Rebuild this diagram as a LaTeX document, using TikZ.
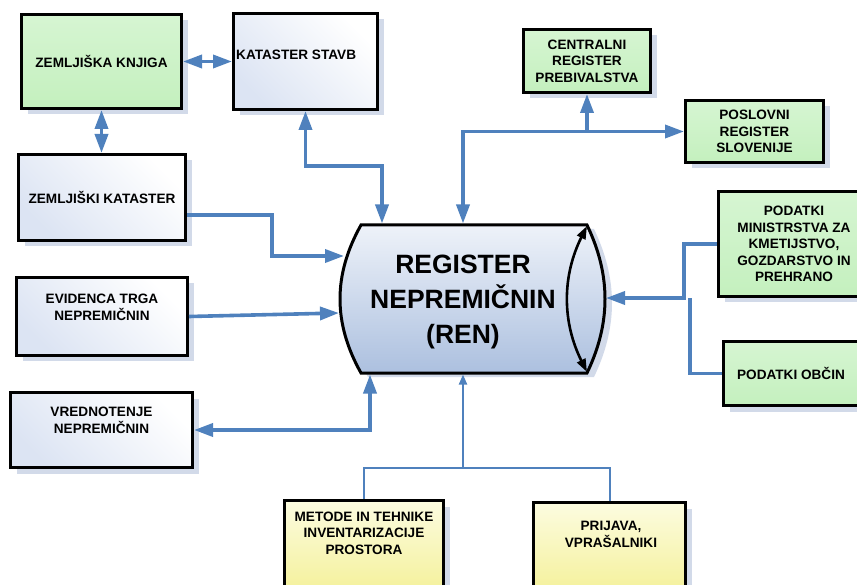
\documentclass[tikz,border=0pt]{standalone}
\usepackage{fontspec}
\setmainfont{Liberation Sans}
\usetikzlibrary{arrows.meta,shadows}

\definecolor{linkblue}{RGB}{79,129,189}
\definecolor{bluelo}{RGB}{220,228,243}
\definecolor{greenlo}{RGB}{196,240,190}
\definecolor{greenhi}{RGB}{214,245,210}
\definecolor{yellowlo}{RGB}{244,240,150}
\definecolor{yellowhi}{RGB}{252,252,224}
\definecolor{cyllo}{RGB}{172,192,223}
\definecolor{cylhi}{RGB}{238,242,249}
\definecolor{shadowc}{RGB}{210,218,233}

\tikzset{
  boxsize/.style 2 args={minimum width=#1pt, minimum height=#2pt},
  box/.style={draw, line width=3pt, inner sep=0pt, align=center,
    font=\bfseries\fontsize{13.6}{16.5}\selectfont,
    general shadow={fill=shadowc, shadow xshift=6pt, shadow yshift=-6pt}},
  whitebox/.style={box, top color=white, bottom color=bluelo, shading angle=-45},
  greenbox/.style={box, top color=greenhi, bottom color=greenlo},
  yellowbox/.style={box, top color=yellowhi, bottom color=yellowlo},
  lbl/.style={inner sep=0pt, align=center, font=\bfseries\fontsize{13.6}{16.5}\selectfont},
  rentxt/.style={inner sep=0pt, align=center, font=\bfseries\fontsize{26.5}{35}\selectfont},
  link/.style={draw=linkblue, line width=3.6pt, >={Triangle[length=19pt,width=13pt]}},
  thinlink/.style={draw=linkblue, line width=2pt, >={Triangle[length=10pt,width=8pt]}}
}

\begin{document}
\begin{tikzpicture}[x=1pt, y=-1pt]
  \useasboundingbox (0,0) rectangle (857,585);
  \clip (0,0) rectangle (857,585);

  % register (cylinder)
  \draw[line width=3pt, top color=cylhi, bottom color=cyllo,
    general shadow={fill=shadowc, shadow xshift=7pt, shadow yshift=-4pt}]
    (361,225) -- (587,225) .. controls (611,275) and (611,323) .. (587,373)
    -- (361,373) .. controls (333,323) and (333,275) .. (361,225) -- cycle;
  \draw[line width=2.6pt, <->, >={Triangle[length=13pt,width=9pt]}]
    (587,226) .. controls (562,276) and (562,322) .. (587,372);
  \node[rentxt] (ren) at (463,302) {REGISTER\\NEPREMIČNIN\\(REN)};
  \coordinate (renN1) at (382,223.5);
  \coordinate (renN2) at (463,223.5);
  \coordinate (renS1) at (370,374.5);
  \coordinate (renS2) at (463,374.5);
  \coordinate (renW1) at (344,256);
  \coordinate (renW2) at (339,313);
  \coordinate (renE)  at (606,298);

  % left column
  \node[greenbox, boxsize={160}{94}] (zk) at (101.5,61.5) {ZEMLJIŠKA KNJIGA};
  \node[whitebox, boxsize={144}{96}] (kstavb) at (305.5,61.5) {};
  \node[lbl, anchor=west] (kstavbtxt) at (236,55) {KATASTER STAVB};
  \node[whitebox, boxsize={167}{86}] (zkat) at (102,197.5) {ZEMLJIŠKI KATASTER};
  \node[whitebox, boxsize={171}{78}] (evid) at (102,316.5) {};
  \node[lbl] (evidtxt) at (102,307.5) {EVIDENCA TRGA\\NEPREMIČNIN};
  \node[whitebox, boxsize={182}{75}] (vred) at (101.5,430) {};
  \node[lbl] (vredtxt) at (101.5,420.5) {VREDNOTENJE\\NEPREMIČNIN};

  % right column
  \node[greenbox, boxsize={127}{63}] (crp) at (587,61) {CENTRALNI\\REGISTER\\PREBIVALSTVA};
  \node[greenbox, boxsize={138}{62}] (prs) at (754.5,131.5) {POSLOVNI\\REGISTER\\SLOVENIJE};
  \node[greenbox, boxsize={151}{105}] (mkgp) at (794,244)
    {PODATKI\\MINISTRSTVA ZA\\KMETIJSTVO,\\GOZDARSTVO IN\\PREHRANO};
  \node[greenbox, boxsize={135}{64}] (obcin) at (791,373.5) {PODATKI OBČIN};

  % bottom
  \node[yellowbox, boxsize={159}{98}] (metode) at (364,549.5) {};
  \node[lbl] (metodetxt) at (364,533) {METODE IN TEHNIKE\\INVENTARIZACIJE\\PROSTORA};
  \node[yellowbox, boxsize={152}{96}] (prijava) at (609.5,550.5) {};
  \node[lbl] (prijavatxt) at (611,534.5) {PRIJAVA,\\VPRAŠALNIKI};

  % connectors
  \draw[link,<->] (zk.east) -- (zk.east -| kstavb.west);
  \draw[link,<->] (zk.south) -- (zk.south |- zkat.north);
  \draw[link,->] (zkat.east |- 0,215) -| (272,256) -- (renW1);
  \draw[link,<->] (kstavb.south) |- (382,166) -- (renN1);
  \draw[link,->] (evid.east) -- (renW2);
  \draw[link,<->] (renS1) |- (vred.east);
  \draw[link,<->] (renN2) |- (prs.west);
  \draw[link,->] (crp.south |- prs.west) -- (crp.south);
  \draw[link,->] (mkgp.west) -| (684,298) -- (renE);
  \draw[link] (obcin.west) -| (690,298);
  \draw[thinlink] (metode.north) |- (prijava.north |- 0,468) -- (prijava.north);
  \draw[thinlink,->] (renS2 |- 0,468) -- (renS2);
\end{tikzpicture}
\end{document}
